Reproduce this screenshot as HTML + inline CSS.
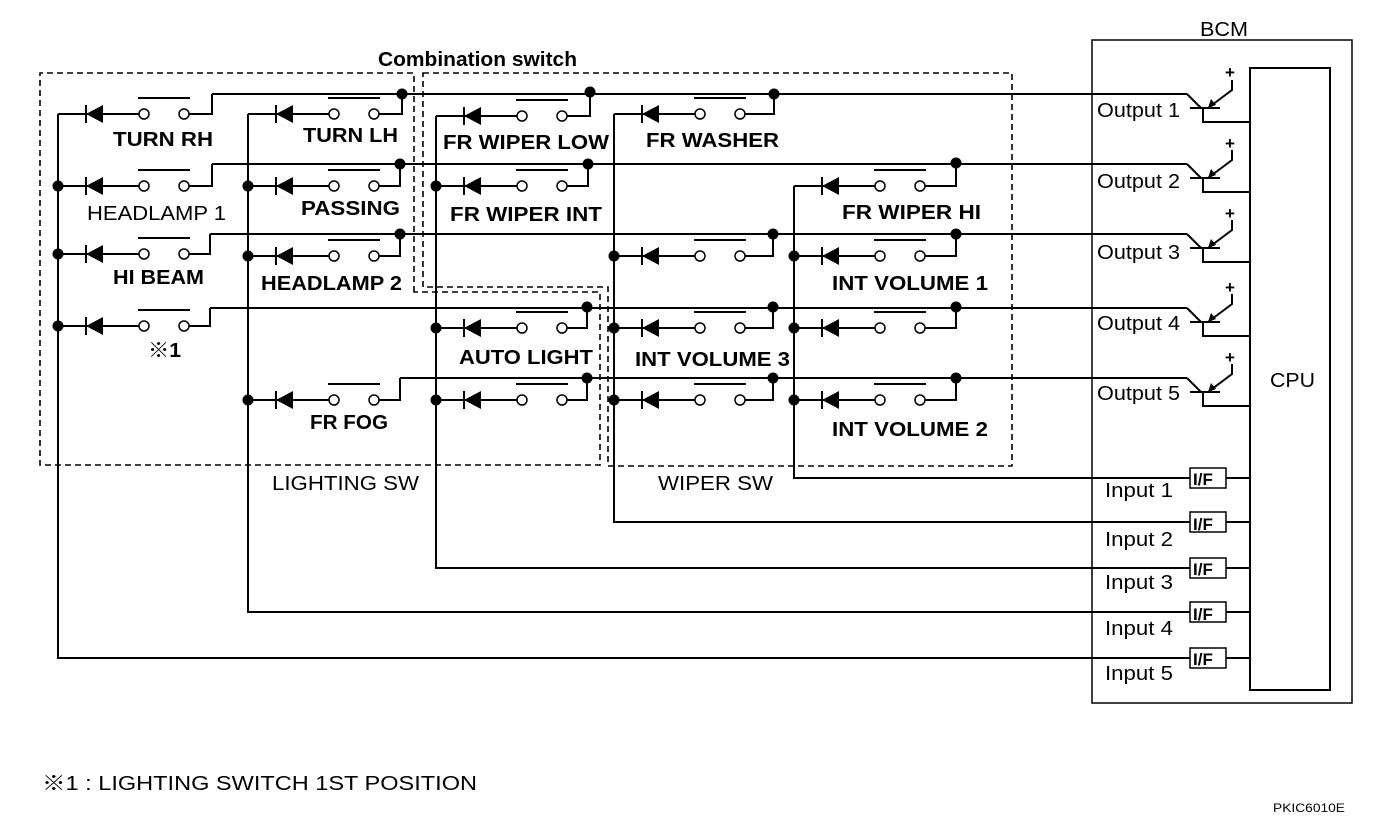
<!DOCTYPE html>
<html><head><meta charset="utf-8"><style>
html,body{margin:0;padding:0;background:#fff}
svg{display:block}
text{font-family:"Liberation Sans","Noto Sans CJK JP",sans-serif;fill:#000}
.b{font-weight:bold;font-size:20px}
.r{font-size:20px}
</style></head><body>
<svg id="s" width="1392" height="826" viewBox="0 0 1392 826" xmlns="http://www.w3.org/2000/svg">
<g fill="none" stroke="#000" stroke-width="1.6" stroke-dasharray="6,4">
<path d="M414 292 V73 H40 V465 H600 V292 Z"/>
<path d="M423 73 H1012 V466 H608 V287 H423 Z"/>
</g>
<g fill="none" stroke="#000" stroke-width="1.5">
<rect x="1092" y="40" width="260" height="663"/>
<rect x="1250" y="68" width="80" height="622" stroke-width="2"/>
</g>
<g id="w" stroke="#000" stroke-width="2" fill="none"></g>
<g id="d"></g>
<g>
<text x="378" y="66" class="b" textLength="199" lengthAdjust="spacingAndGlyphs">Combination switch</text>
<text x="1200" y="36" class="r" textLength="48" lengthAdjust="spacingAndGlyphs">BCM</text>
<text x="113" y="146" class="b" textLength="100" lengthAdjust="spacingAndGlyphs">TURN RH</text>
<text x="87" y="220" class="r" textLength="139" lengthAdjust="spacingAndGlyphs">HEADLAMP 1</text>
<text x="113" y="284" class="b" textLength="91" lengthAdjust="spacingAndGlyphs">HI BEAM</text>
<text x="148" y="357" class="b" textLength="33" lengthAdjust="spacingAndGlyphs">※1</text>
<text x="303" y="142" class="b" textLength="95" lengthAdjust="spacingAndGlyphs">TURN LH</text>
<text x="301" y="215" class="b" textLength="99" lengthAdjust="spacingAndGlyphs">PASSING</text>
<text x="261" y="290" class="b" textLength="141" lengthAdjust="spacingAndGlyphs">HEADLAMP 2</text>
<text x="310" y="429" class="b" textLength="78" lengthAdjust="spacingAndGlyphs">FR FOG</text>
<text x="443" y="149" class="b" textLength="166" lengthAdjust="spacingAndGlyphs">FR WIPER LOW</text>
<text x="450" y="221" class="b" textLength="152" lengthAdjust="spacingAndGlyphs">FR WIPER INT</text>
<text x="459" y="364" class="b" textLength="134" lengthAdjust="spacingAndGlyphs">AUTO LIGHT</text>
<text x="646" y="147" class="b" textLength="133" lengthAdjust="spacingAndGlyphs">FR WASHER</text>
<text x="635" y="366" class="b" textLength="155" lengthAdjust="spacingAndGlyphs">INT VOLUME 3</text>
<text x="842" y="219" class="b" textLength="139" lengthAdjust="spacingAndGlyphs">FR WIPER HI</text>
<text x="832" y="290" class="b" textLength="156" lengthAdjust="spacingAndGlyphs">INT VOLUME 1</text>
<text x="832" y="436" class="b" textLength="156" lengthAdjust="spacingAndGlyphs">INT VOLUME 2</text>
<text x="272" y="490" class="r" textLength="147" lengthAdjust="spacingAndGlyphs">LIGHTING SW</text>
<text x="658" y="490" class="r" textLength="115" lengthAdjust="spacingAndGlyphs">WIPER SW</text>
<text x="1097" y="117" class="r" textLength="83" lengthAdjust="spacingAndGlyphs">Output 1</text>
<text x="1097" y="188" class="r" textLength="83" lengthAdjust="spacingAndGlyphs">Output 2</text>
<text x="1097" y="259" class="r" textLength="83" lengthAdjust="spacingAndGlyphs">Output 3</text>
<text x="1097" y="330" class="r" textLength="83" lengthAdjust="spacingAndGlyphs">Output 4</text>
<text x="1097" y="400" class="r" textLength="83" lengthAdjust="spacingAndGlyphs">Output 5</text>
<text x="1105" y="497" class="r" textLength="68" lengthAdjust="spacingAndGlyphs">Input 1</text>
<text x="1105" y="546" class="r" textLength="68" lengthAdjust="spacingAndGlyphs">Input 2</text>
<text x="1105" y="589" class="r" textLength="68" lengthAdjust="spacingAndGlyphs">Input 3</text>
<text x="1105" y="635" class="r" textLength="68" lengthAdjust="spacingAndGlyphs">Input 4</text>
<text x="1105" y="680" class="r" textLength="68" lengthAdjust="spacingAndGlyphs">Input 5</text>
<text x="1270" y="387" class="r" textLength="45" lengthAdjust="spacingAndGlyphs">CPU</text>
<text x="1193" y="485" class="b" style="font-size:17px">I/F</text>
<text x="1193" y="530" class="b" style="font-size:17px">I/F</text>
<text x="1193" y="575" class="b" style="font-size:17px">I/F</text>
<text x="1193" y="620" class="b" style="font-size:17px">I/F</text>
<text x="1193" y="665" class="b" style="font-size:17px">I/F</text>
<text x="1225" y="78" class="b" style="font-size:17px">+</text>
<text x="1225" y="149" class="b" style="font-size:17px">+</text>
<text x="1225" y="219" class="b" style="font-size:17px">+</text>
<text x="1225" y="293" class="b" style="font-size:17px">+</text>
<text x="1225" y="363" class="b" style="font-size:17px">+</text>
<text x="42" y="790" class="r" textLength="435" lengthAdjust="spacingAndGlyphs">※1 : LIGHTING SWITCH 1ST POSITION</text>
<text x="1273" y="812" style="font-size:12px" textLength="72" lengthAdjust="spacingAndGlyphs">PKIC6010E</text>
</g>
</svg>
<script>
var W=document.getElementById('w'),D=document.getElementById('d'),NS='http://www.w3.org/2000/svg';
function el(p,t,a){var e=document.createElementNS(NS,t);for(var k in a)e.setAttribute(k,a[k]);p.appendChild(e);return e;}
function L(x1,y1,x2,y2,w){el(W,'line',{x1:x1,y1:y1,x2:x2,y2:y2,'stroke-width':w||2});}
function dot(x,y){el(D,'circle',{cx:x,cy:y,r:5.5,fill:'#000'});}
var bus=[[94,212],[164,212],[234,210],[308,210],[378,400]];
bus.forEach(function(b){L(b[1],b[0],1187,b[0]);
 var y=b[0];
 el(W,'path',{d:'M1187 '+y+' L1201 '+(y+14)});
 L(1190,y+14,1220,y+14);
 el(W,'path',{d:'M1203 '+(y+14)+' V'+(y+28)+' H1250'});
 el(W,'path',{d:'M1208 '+(y+14)+' L1232 '+(y-4)+' V'+(y-14)});
 el(D,'polygon',{points:(1208)+','+(y+14)+' '+(1211)+','+(y+5)+' '+(1216)+','+(y+11),fill:'#000'});
});
var inp=[[794,186,478],[614,114,522],[436,116,568],[248,114,612],[58,114,658]];
inp.forEach(function(v){el(W,'path',{d:'M'+v[0]+' '+v[1]+' V'+v[2]+' H1190'});
 el(W,'rect',{x:1190,y:v[2]-10,width:36,height:20,'stroke-width':1.5});L(1226,v[2],1250,v[2]);});
var sw=[
[58,114,94,212,0,0],[58,186,164,212,1,0],[58,254,234,210,1,0],[58,326,308,210,1,0],
[248,114,94,402,0,1],[248,186,164,400,1,1],[248,256,234,400,1,1],[248,400,378,400,1,0],
[436,116,92,590,0,1],[436,186,164,588,1,1],[436,328,307,587,1,1],[436,400,378,587,1,1],
[614,114,94,774,0,1],[614,256,234,773,1,1],[614,328,307,773,1,1],[614,400,378,773,1,1],
[794,186,163,956,0,1],[794,256,234,956,1,1],[794,328,307,956,1,1],[794,400,378,956,1,1]];
sw.forEach(function(s){var x=s[0],y=s[1],dx=x+28,c1=x+86,c2=x+126;
 L(x,y,c1-5,y);
 el(D,'polygon',{points:(dx)+','+y+' '+(dx+17)+','+(y-9)+' '+(dx+17)+','+(y+9),fill:'#000'});
 L(dx,y-9,dx,y+9);
 el(W,'circle',{cx:c1,cy:y,r:5,fill:'#fff','stroke-width':1.5});
 el(W,'circle',{cx:c2,cy:y,r:5,fill:'#fff','stroke-width':1.5});
 L(c1-6,y-16,c2+6,y-16);
 el(W,'path',{d:'M'+(c2+5)+' '+y+' H'+s[3]+' V'+s[2]});
 if(s[4])dot(x,y); if(s[5])dot(s[3],s[2]);
});
</script>
</body></html>
